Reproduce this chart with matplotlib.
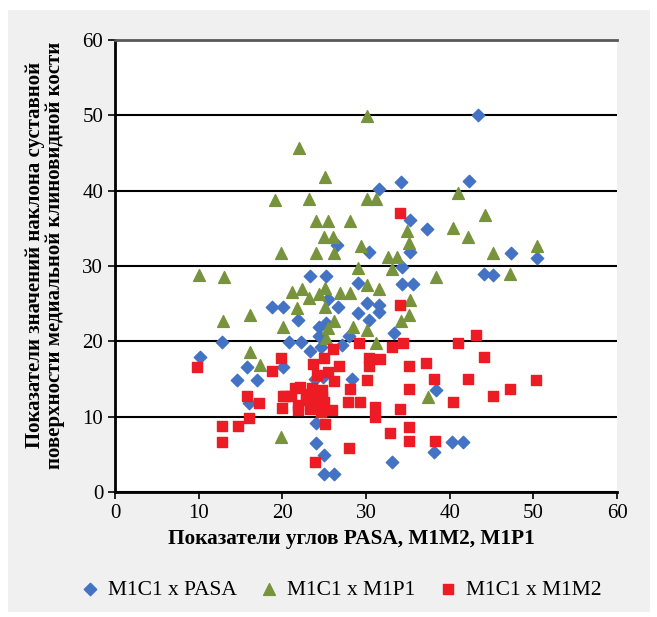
import matplotlib
matplotlib.use("Agg")
import matplotlib.pyplot as plt
from matplotlib.patches import Rectangle

# M1C1 x PASA
pasa_x = [43.4, 42.3, 34.2, 31.5, 35.2, 37.3, 26.5, 30.3, 35.2, 47.3, 50.4, 34.3, 44.1, 45.2,
          23.3, 25.2, 29.0, 34.3, 35.6, 25.4, 18.8, 20.1, 26.6, 30.1, 31.5, 31.5, 29.0, 21.9,
          30.3, 25.2, 24.4, 24.4, 28.0, 33.3, 20.8, 22.2, 12.8, 23.3, 24.6, 27.1, 10.2, 15.8,
          20.1, 14.6, 17.0, 23.9, 24.9, 28.3, 38.4, 16.0, 24.0, 24.0, 25.0, 25.0, 26.2, 33.1,
          38.1, 40.3, 41.6]
pasa_y = [50.0, 41.3, 41.2, 40.2, 36.1, 34.9, 32.8, 31.9, 31.9, 31.7, 31.1, 29.9, 29.0, 28.8,
          28.7, 28.7, 27.8, 27.6, 27.6, 25.6, 24.6, 24.6, 24.6, 25.1, 24.8, 23.9, 23.8, 22.8,
          22.8, 22.4, 21.9, 20.7, 20.7, 21.1, 19.9, 19.9, 19.9, 18.7, 19.3, 19.5, 17.9, 16.6,
          16.6, 14.9, 14.9, 15.0, 15.3, 15.0, 13.5, 11.8, 9.2, 6.5, 4.9, 2.4, 2.4, 4.0,
          5.3, 6.6, 6.6]

# M1C1 x M1P1
m1p1_x = [30.1, 22.0, 25.1, 19.1, 23.2, 30.1, 31.2, 41.0, 44.2, 24.0, 25.4, 28.1, 34.9, 40.4,
          25.0, 26.0, 42.2, 29.4, 35.1, 50.4, 19.8, 24.0, 26.2, 45.2, 32.6, 33.7, 29.0, 33.1,
          47.2, 38.4, 10.0, 13.0, 21.1, 22.3, 23.2, 24.4, 25.1, 26.9, 28.1, 30.1, 31.5, 35.2,
          25.1, 21.7, 35.1, 34.2, 26.2, 16.1, 12.9, 20.1, 25.4, 28.4, 30.1, 25.2, 31.2, 16.1,
          17.3, 37.4, 19.8]
m1p1_y = [49.9, 45.7, 41.8, 38.8, 38.9, 38.9, 38.9, 39.7, 36.8, 36.0, 36.0, 36.0, 34.7, 35.1,
          33.9, 33.9, 33.9, 32.7, 33.1, 32.7, 31.7, 31.7, 31.7, 31.7, 31.2, 31.2, 29.7, 29.6,
          29.0, 28.5, 28.8, 28.6, 26.6, 26.9, 25.7, 26.3, 27.1, 26.4, 26.4, 27.5, 26.9, 25.5,
          24.6, 24.4, 23.5, 22.7, 22.7, 23.5, 22.7, 21.9, 21.8, 21.9, 21.5, 20.4, 19.8, 18.6,
          16.9, 12.6, 7.3]

# M1C1 x M1M2
m1m2_x = [34.1, 34.1, 43.1, 41.0, 29.2, 34.4, 33.1, 26.1, 19.8, 25.0, 30.3, 31.7, 44.1, 37.2,
          23.7, 9.8, 26.8, 30.3, 35.1, 18.8, 25.4, 24.1, 42.2, 50.3, 38.1, 30.1, 26.2, 28.1,
          35.1, 47.2, 15.8, 20.1, 45.2, 17.2, 27.8, 29.3, 40.4, 20.0, 31.1, 31.1, 34.1, 16.0,
          12.8, 14.7, 25.1, 35.1, 32.9, 12.8, 35.1, 38.2, 28.0, 23.9,
          20.3, 21.5, 22.1, 22.8, 23.5, 24.7, 24.0, 24.8, 21.0, 21.9, 22.8, 23.5, 24.7, 25.0,
          24.6, 25.9, 21.9, 23.3]
m1m2_y = [37.1, 24.8, 20.8, 19.8, 19.8, 19.8, 19.3, 19.0, 17.8, 17.8, 17.8, 17.7, 17.9, 17.1,
          17.0, 16.6, 16.7, 16.7, 16.7, 16.1, 15.9, 15.5, 15.0, 14.9, 15.0, 14.9, 14.7, 13.7,
          13.7, 13.7, 12.7, 12.7, 12.7, 11.8, 12.0, 12.0, 12.0, 11.2, 11.3, 10.0, 11.0, 9.8,
          8.8, 8.8, 9.0, 8.6, 7.8, 6.6, 6.8, 6.8, 5.8, 4.0,
          12.7, 13.8, 13.9, 13.0, 13.8, 13.5, 12.5, 12.7, 12.8, 11.6, 12.2, 11.8, 11.5, 12.0,
          10.6, 10.9, 10.9, 11.0]

ticks = [0, 10, 20, 30, 40, 50, 60]

plt.rcParams['font.family'] = ['Liberation Serif', 'DejaVu Serif']

fig = plt.figure(figsize=(6.57, 6.17), dpi=100)
fig.patches.append(Rectangle((8 / 657, 1 - 612 / 617), 642 / 657, 602 / 617,
                             transform=fig.transFigure, facecolor='#f0f0f0',
                             edgecolor='none', zorder=-10))
ax = fig.add_axes([115 / 657, 1 - 492 / 617, 502 / 657, 452 / 617])
ax.set_facecolor('white')

ax.scatter(pasa_x, pasa_y, marker='D', s=40, color='#4472C4', label='M1C1 x PASA', zorder=3)
ax.scatter(m1p1_x, m1p1_y, marker='^', s=72, color='#77933C', label='M1C1 x M1P1', zorder=3)
ax.scatter(m1m2_x, m1m2_y, marker='s', s=60, color='#ED1C24', label='M1C1 x M1M2', zorder=3)

ax.set_xlim(0, 60)
ax.set_ylim(0, 60)
ax.set_xticks(ticks)
ax.set_yticks(ticks)
ax.tick_params(labelsize=15, length=5, width=1.2, colors='black')
ax.yaxis.grid(True, color='black', linewidth=1.5)
ax.set_axisbelow(True)

ax.spines['right'].set_visible(False)
ax.spines['top'].set_color('#595959')
ax.spines['top'].set_linewidth(2)
ax.spines['left'].set_linewidth(2)
ax.spines['bottom'].set_linewidth(2)

ax.set_xlabel('Показатели углов PASA, M1M2, M1P1', fontsize=15.3, fontweight='bold')
ax.xaxis.set_label_coords(0.47, -0.082)
ax.set_ylabel('Показатели значений наклона суставной\nповерхности медиальной клиновидной кости',
              fontsize=15, fontweight='bold', linespacing=1.0)
ax.yaxis.set_label_coords(-0.100, 0.524)

fig.legend(loc='center', bbox_to_anchor=(0.518, 27 / 617), ncol=3, frameon=False,
           fontsize=15.5, handlelength=1, handletextpad=0.35, columnspacing=1.0)

fig.savefig('out.png', dpi=100)
